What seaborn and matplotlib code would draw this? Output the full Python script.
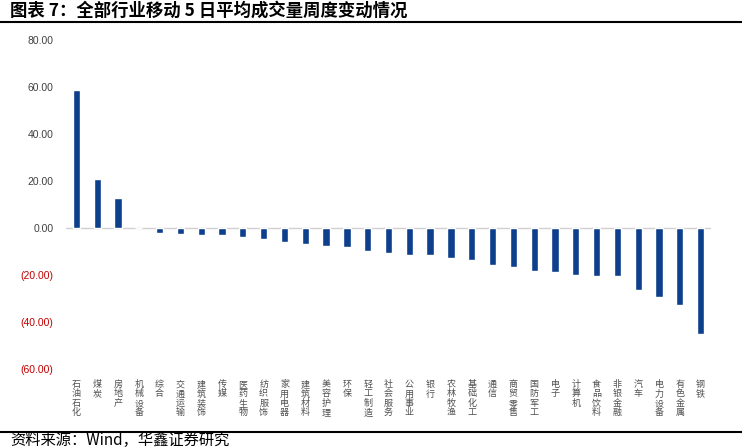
import matplotlib
matplotlib.use('Agg')
import matplotlib.pyplot as plt
from matplotlib.lines import Line2D
from matplotlib.ticker import FuncFormatter
import seaborn as sns
import pandas as pd

industries = [
    "石油石化", "煤炭", "房地产", "机械设备", "综合", "交通运输", "建筑装饰", "传媒",
    "医药生物", "纺织服饰", "家用电器", "建筑材料", "美容护理", "环保", "轻工制造", "社会服务",
    "公用事业", "银行", "农林牧渔", "基础化工", "通信", "商贸零售", "国防军工", "电子",
    "计算机", "食品饮料", "非银金融", "汽车", "电力设备", "有色金属", "钢铁",
]
changes = [
    58.8, 20.7, 12.6, 0.0, -2.1, -2.4, -3.1, -3.1,
    -3.8, -4.5, -5.9, -6.8, -7.8, -7.9, -10.0, -10.6,
    -11.6, -11.7, -12.9, -13.6, -15.6, -16.4, -18.3, -18.9,
    -19.9, -20.5, -20.6, -26.2, -29.4, -32.7, -45.3,
]
y_ticks = [80, 60, 40, 20, 0, -20, -40, -60]

sns.set_theme(style='white')
plt.rcParams['font.family'] = ['Noto Sans CJK SC', 'DejaVu Sans']

df = pd.DataFrame({'industry': industries, 'change': changes})

fig = plt.figure(figsize=(7.42, 4.48), dpi=100)
ax = fig.add_axes([66 / 742, 1 - 369 / 448, (711 - 66) / 742, (369 - 40) / 448])

sns.barplot(data=df, x='industry', y='change', color='#0D3F8C', width=0.35,
            saturation=1, ax=ax)
ax.axhline(0, color='#D0D0D0', lw=1, zorder=0)

ax.set_ylim(-60, 80)
ax.set_yticks(y_ticks)


def fmt(v, pos):
    return f"{v:.2f}" if v >= 0 else f"({-v:.2f})"


ax.yaxis.set_major_formatter(FuncFormatter(fmt))
for lab, v in zip(ax.get_yticklabels(), y_ticks):
    lab.set_color('#C00000' if v < 0 else '#404040')
    lab.set_fontsize(7.5)
    lab.set_family(['Liberation Sans', 'DejaVu Sans'])

ax.set_xticks(range(len(industries)))
ax.set_xticklabels(["\n".join(s) for s in industries], fontsize=6.5,
                   color='#505050', va='top', linespacing=1.05)
ax.tick_params(axis='both', length=0)
ax.tick_params(axis='x', pad=8)
ax.tick_params(axis='y', pad=9)
ax.set_xlabel('')
ax.set_ylabel('')
for s in ax.spines.values():
    s.set_visible(False)

fig.text(10 / 742, 1 - 11 / 448, "图表 7：全部行业移动 5 日平均成交量周度变动情况",
         fontsize=12.5, fontweight='bold', color='black', va='center', ha='left')
fig.add_artist(Line2D([0, 1], [1 - 22 / 448, 1 - 22 / 448], color='black', lw=1.5))
fig.add_artist(Line2D([0, 1], [1 - 432 / 448, 1 - 432 / 448], color='black', lw=1.5))
fig.text(10 / 742, 1 - 440 / 448, "资料来源：Wind，华鑫证券研究",
         fontsize=11, color='black', va='center', ha='left')

fig.savefig('out.png', dpi=100)
